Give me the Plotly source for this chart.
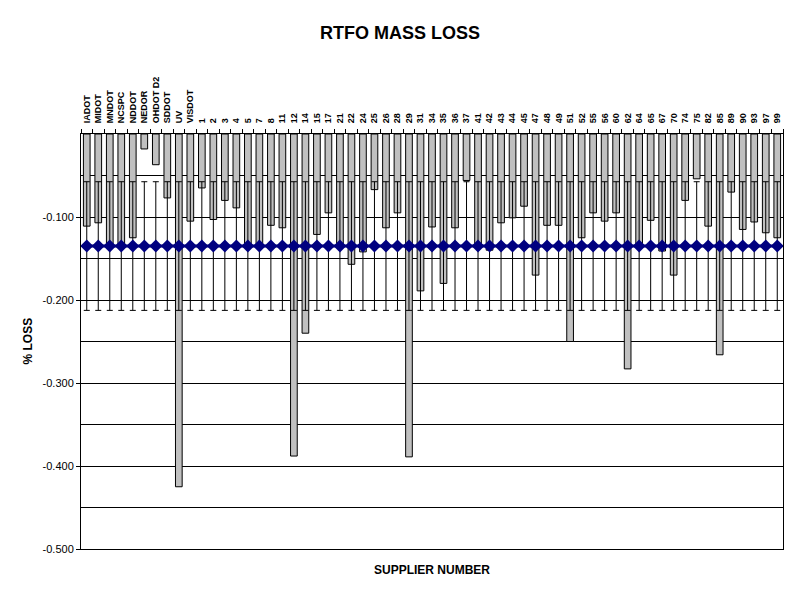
import plotly.graph_objects as go

categories = ["IADOT", "MIDOT", "MNDOT", "NCSPC", "NDDOT", "NEDOR", "OHDOT D2", "SDDOT", "UV", "VISDOT",
              "1", "2", "3", "4", "5", "7", "8", "11", "12", "14",
              "15", "17", "21", "22", "24", "25", "26", "28", "29", "31",
              "34", "35", "36", "37", "41", "42", "43", "44", "45", "47",
              "48", "49", "51", "52", "55", "56", "60", "62", "64", "65",
              "67", "70", "74", "75", "82", "85", "89", "90", "93", "97", "99"]

mass_loss = [-0.111, -0.107, -0.135, -0.134, -0.125, -0.018, -0.037, -0.077, -0.425, -0.105,
             -0.065, -0.103, -0.080, -0.089, -0.135, -0.134, -0.110, -0.113, -0.388, -0.240,
             -0.121, -0.095, -0.135, -0.157, -0.142, -0.067, -0.113, -0.095, -0.389, -0.189,
             -0.112, -0.180, -0.113, -0.056, -0.135, -0.140, -0.107, -0.101, -0.087, -0.170,
             -0.110, -0.110, -0.250, -0.125, -0.095, -0.105, -0.095, -0.283, -0.135, -0.104,
             -0.141, -0.170, -0.080, -0.054, -0.111, -0.266, -0.070, -0.115, -0.106, -0.119, -0.125]

average_loss = [-0.135] * len(categories)
average_error = 0.0775

y_tick_values = [-0.1, -0.2, -0.3, -0.4, -0.5]
y_tick_text = ["-0.100", "-0.200", "-0.300", "-0.400", "-0.500"]
y_minor_grid = [-0.05, -0.15, -0.25, -0.35, -0.45]

fig = go.Figure()
fig.add_trace(go.Bar(
    x=categories, y=mass_loss,
    marker=dict(color="#C0C0C0", line=dict(color="black", width=1)),
))
fig.add_trace(go.Scatter(
    x=categories, y=average_loss, mode="lines+markers",
    line=dict(color="#000080", width=3),
    marker=dict(symbol="diamond", size=10, color="#000080"),
    error_y=dict(type="constant", value=average_error, color="black", thickness=1, width=3),
))

fig.update_layout(
    width=800, height=600,
    paper_bgcolor="white", plot_bgcolor="white",
    margin=dict(l=81, r=17, t=134, b=51),
    showlegend=False,
    bargap=0.42,
    font=dict(family="Arial, Liberation Sans", color="black"),
    title=dict(text="<b>RTFO MASS LOSS</b>", x=0.5, xanchor="center", y=1 - 33 / 600, yanchor="middle",
               font=dict(size=18, color="black")),
)
fig.update_xaxes(
    type="category", side="top", showline=True, linecolor="black", linewidth=1, mirror=True,
    range=[-0.5, len(categories) - 0.5],
    tickmode="linear", tick0=0, dtick=1, automargin=False,
    ticks="outside", tickson="boundaries", ticklen=4, tickcolor="black",
    tickangle=-90, tickfont=dict(size=9, family="Arial, Liberation Sans"),
    ticklabelstandoff=8, showgrid=False,
    tickprefix="<b>", ticksuffix="</b>",
)
fig.update_yaxes(
    range=[-0.5, 0], showline=True, linecolor="black", linewidth=1, mirror=True, automargin=False,
    tickmode="array", tickvals=y_tick_values, ticktext=y_tick_text,
    ticks="outside", ticklen=4, tickcolor="black", tickfont=dict(size=11),
    showgrid=True, gridcolor="black", gridwidth=1, zeroline=False,
    minor=dict(tickmode="array", tickvals=y_minor_grid, showgrid=True, gridcolor="black", gridwidth=1, ticks=""),
)
fig.add_annotation(text="<b>SUPPLIER NUMBER</b>", xref="paper", yref="paper", x=0.5, y=-21 / 415,
                   xanchor="center", yanchor="middle", showarrow=False, font=dict(size=12))
fig.add_annotation(text="<b>% LOSS</b>", xref="paper", yref="paper", x=-54 / 702, y=0.5, textangle=-90,
                   xanchor="center", yanchor="middle", showarrow=False, font=dict(size=12))

fig.write_html("out.html")
